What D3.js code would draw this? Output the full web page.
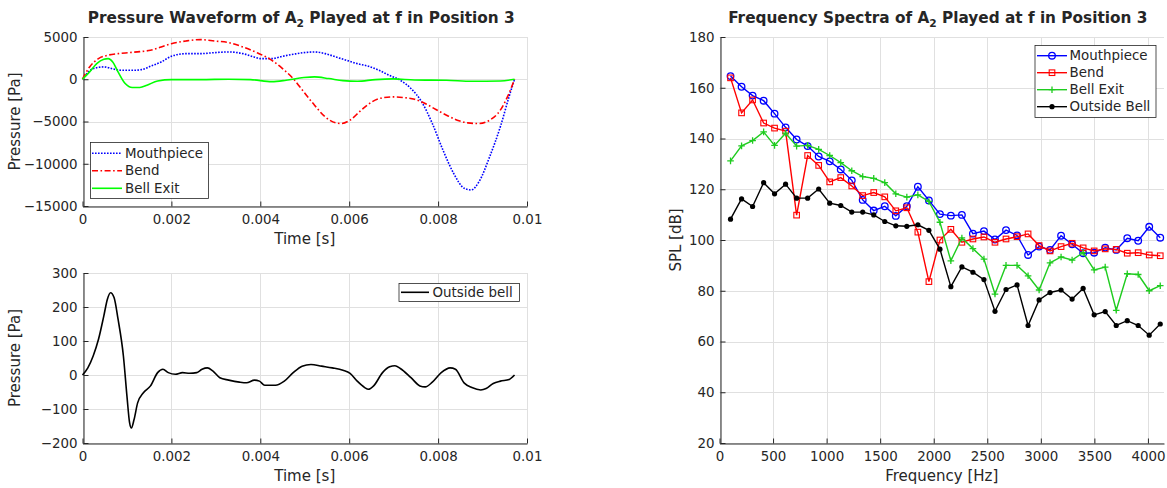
<!DOCTYPE html>
<html>
<head>
<meta charset="utf-8">
<script src="https://cdn.jsdelivr.net/npm/d3@7"></script>
<style>
  body { margin: 0; background: #fff; }
  svg text { font-family: "DejaVu Sans", sans-serif; fill: #262626; }
</style>
</head>
<body>
<svg id="chart" width="1167" height="488"></svg>
<script>
// ---- waveform data (time in ms, pressure in Pa) ----
const mouthT = [0, 0.24, 0.48, 0.72, 0.88, 1.12, 1.33, 1.53, 1.77, 2.0, 2.33, 2.65, 2.97, 3.29, 3.61, 3.86, 4.02, 4.26, 4.5, 4.74, 4.98, 5.22, 5.46, 5.7, 5.94, 6.18, 6.43, 6.67, 6.9, 7.15, 7.39, 7.63, 7.87, 8.11, 8.35, 8.59, 8.74, 8.92, 9.16, 9.4, 9.6, 9.72];
const mouthP = [0, 1260, 1460, 1180, 1060, 1060, 1140, 1540, 2050, 2720, 3030, 3030, 3150, 3230, 3030, 2640, 2440, 2440, 2720, 2950, 3150, 3230, 3030, 2640, 2240, 1850, 1540, 1060, 470, -120, -1100, -2680, -5240, -8390, -11140, -12910, -13100, -12130, -9170, -5630, -2000, 0];

const bendT = [0, 0.16, 0.36, 0.56, 0.8, 1.04, 1.29, 1.53, 1.77, 2.0, 2.33, 2.65, 2.97, 3.29, 3.61, 3.94, 4.26, 4.5, 4.74, 4.98, 5.22, 5.46, 5.7, 5.82, 6.02, 6.27, 6.51, 6.75, 6.99, 7.23, 7.47, 7.71, 7.95, 8.19, 8.43, 8.67, 8.92, 9.16, 9.4, 9.56, 9.72];
const bendP = [0, 1460, 2440, 2830, 3030, 3150, 3270, 3430, 3820, 4210, 4530, 4690, 4530, 4330, 3820, 3110, 2240, 1260, 80, -1500, -3070, -4450, -5160, -5240, -4840, -3660, -2680, -2200, -2090, -2170, -2360, -2870, -3580, -4250, -4840, -5160, -5240, -4840, -3660, -2090, 0];

const exitT = [0, 0.16, 0.32, 0.48, 0.58, 0.68, 0.8, 0.96, 1.12, 1.29, 1.45, 1.69, 2.0, 2.65, 3.29, 3.78, 4.26, 4.58, 4.98, 5.22, 5.54, 5.86, 6.18, 6.59, 6.99, 7.47, 8.19, 8.76, 9.4, 9.72];
const exitP = [0, 870, 1850, 2360, 2440, 2050, 870, -510, -980, -980, -710, -200, -40, -40, 0, -40, -280, -120, 200, 280, 80, -160, -240, -40, 40, -80, -120, -240, -200, 0];

const outT = [0, 0.12, 0.24, 0.36, 0.48, 0.56, 0.63, 0.71, 0.8, 0.92, 1.0, 1.06, 1.1, 1.16, 1.24, 1.37, 1.53, 1.69, 1.81, 1.93, 2.09, 2.25, 2.41, 2.57, 2.69, 2.81, 2.93, 3.09, 3.29, 3.53, 3.69, 3.87, 3.98, 4.1, 4.34, 4.54, 4.74, 4.94, 5.14, 5.38, 5.62, 5.86, 6.02, 6.18, 6.35, 6.43, 6.55, 6.75, 6.91, 7.03, 7.15, 7.39, 7.59, 7.71, 7.87, 8.07, 8.27, 8.39, 8.59, 8.76, 8.96, 9.08, 9.24, 9.4, 9.6, 9.72];
const outP = [0, 21, 56, 105, 174, 223, 242, 228, 164, 56, -62, -141, -156, -131, -82, -52, -32, 7, 17, 7, 2, 7, 5, 7, 17, 21, 12, -8, -15, -21, -23, -15, -18, -30, -30, -18, 7, 26, 31, 26, 21, 14, 5, -18, -37, -42, -32, 7, 24, 27, 19, -8, -32, -35, -21, 7, 21, 17, -24, -37, -44, -40, -25, -18, -13, 0];

// ---- spectra data (Hz, dB) ----
const freqs = [103, 206, 309, 412, 514, 617, 720, 823, 926, 1029, 1132, 1235, 1337, 1440, 1543, 1646, 1749, 1852, 1955, 2058, 2160, 2263, 2366, 2469, 2572, 2675, 2778, 2881, 2984, 3086, 3189, 3292, 3395, 3498, 3601, 3704, 3807, 3909, 4012, 4115];
const splMouth = [164.6, 160.4, 156.9, 154.9, 149.8, 144.4, 139.6, 137.0, 132.9, 131.0, 127.8, 123.5, 115.8, 111.6, 113.3, 109.5, 113.3, 121.0, 115.6, 110.2, 109.6, 109.9, 102.5, 103.5, 100.2, 103.9, 101.8, 94.1, 97.4, 96.1, 101.7, 98.3, 94.8, 95.0, 97.0, 96.1, 100.7, 99.7, 105.2, 100.9];
const splBend = [163.9, 150.1, 155.2, 146.1, 144.1, 142.9, 109.8, 133.3, 129.4, 122.9, 124.6, 121.3, 117.5, 118.7, 117.0, 111.5, 112.7, 103.1, 83.6, 100.0, 104.2, 99.1, 100.4, 101.2, 99.1, 100.4, 101.3, 102.4, 97.8, 95.7, 97.4, 98.7, 96.9, 95.7, 96.5, 96.3, 94.8, 95.0, 94.1, 93.8];
const splExit = [131.2, 137.1, 139.2, 142.6, 137.3, 142.1, 137.0, 137.3, 135.7, 133.3, 130.5, 127.3, 125.0, 124.3, 122.6, 118.2, 116.9, 117.8, 115.2, 107.0, 91.8, 100.8, 96.6, 92.5, 78.7, 90.0, 90.0, 85.9, 80.3, 91.0, 93.3, 92.1, 95.0, 88.2, 89.3, 72.3, 86.7, 86.4, 80.0, 82.0];
const splOut = [108.2, 116.2, 113.2, 122.6, 118.2, 122.0, 116.5, 116.5, 120.1, 114.5, 113.6, 111.0, 111.0, 109.9, 107.3, 105.6, 105.4, 106.0, 103.8, 96.4, 81.6, 89.4, 87.3, 84.4, 71.9, 80.5, 82.3, 66.3, 76.4, 79.3, 80.3, 76.7, 80.9, 70.5, 71.8, 66.3, 68.2, 66.3, 62.5, 66.9];

// ---- ticks ----
const timeTicks = [0, 0.002, 0.004, 0.006, 0.008, 0.01];
const presTicksTop = [-15000, -10000, -5000, 0, 5000];
const presTicksBottom = [-200, -100, 0, 100, 200, 300];
const freqTicks = [0, 500, 1000, 1500, 2000, 2500, 3000, 3500, 4000];
const splTicks = [20, 40, 60, 80, 100, 120, 140, 160, 180];

const svg = d3.select('#chart');
const fmt = d3.format('~g');
const axisColor = '#262626', gridColor = '#e0e0e0';

function panel(box, xDomain, yDomain, xTicks, yTicks, xLabel, yLabel) {
	const x = d3.scaleLinear().domain(xDomain).range([box.x0, box.x1]);
	const y = d3.scaleLinear().domain(yDomain).range([box.y1, box.y0]);
	const g = svg.append('g');

	const grid = g.append('g');
	grid.selectAll('line.gx').data(xTicks).enter().append('line')
		.attr('x1', d => Math.round(x(d)) + 0.5).attr('x2', d => Math.round(x(d)) + 0.5)
		.attr('y1', box.y0).attr('y2', box.y1)
		.attr('stroke', gridColor);
	grid.selectAll('line.gy').data(yTicks).enter().append('line')
		.attr('y1', d => Math.round(y(d)) + 0.5).attr('y2', d => Math.round(y(d)) + 0.5)
		.attr('x1', box.x0).attr('x2', box.x1)
		.attr('stroke', gridColor);

	const xa = g.append('g').attr('transform', 'translate(0,' + (Math.round(box.y1) + 0.5) + ')')
		.call(d3.axisBottom(x).tickValues(xTicks).tickFormat(fmt).tickSizeInner(-5).tickSizeOuter(0).tickPadding(8));
	const ya = g.append('g').attr('transform', 'translate(' + (Math.round(box.x0) + 0.5) + ',0)')
		.call(d3.axisLeft(y).tickValues(yTicks).tickFormat(fmt).tickSizeInner(-5).tickSizeOuter(0).tickPadding(6));
	[xa, ya].forEach(a => {
		a.select('.domain').attr('stroke', axisColor);
		a.selectAll('.tick line').attr('stroke', axisColor);
		a.selectAll('.tick text').style('font-size', '13.4px').attr('fill', axisColor);
	});

	g.append('text').attr('x', (box.x0 + box.x1) / 2).attr('y', box.y1 + 38)
		.attr('text-anchor', 'middle').style('font-size', '15px').text(xLabel);
	g.append('text').attr('transform', 'translate(' + box.lx + ',' + (box.y0 + box.y1) / 2 + ') rotate(-90)')
		.attr('text-anchor', 'middle').style('font-size', '15px').text(yLabel);

	return { g, x, y };
}

function title(cx, text1, text2) {
	const t = svg.append('text').attr('x', cx).attr('y', 22.7).attr('text-anchor', 'middle')
		.style('font-size', '15.3px').style('font-weight', 'bold').attr('fill', '#000');
	t.append('tspan').text(text1);
	t.append('tspan').attr('dy', 4.5).style('font-size', '10.7px').text('2');
	t.append('tspan').attr('dy', -4.5).text(text2);
}

function legendBox(g, bx, by, w, h) {
	g.append('rect').attr('x', bx + 0.5).attr('y', by + 0.5).attr('width', w).attr('height', h)
		.attr('fill', '#fff').attr('stroke', axisColor).attr('stroke-width', 0.8);
}

// ---------- top left: waveforms ----------
const boxA = { x0: 82.5, x1: 527, y0: 37, y1: 206, lx: 20 };
const pA = panel(boxA, [0, 0.01], [-15000, 5000], timeTicks, presTicksTop, 'Time [s]', 'Pressure [Pa]');
title((boxA.x0 + boxA.x1) / 2 - 3.5, 'Pressure Waveform of A', ' Played at f in Position 3');

const wave = [
	{ name: 'Mouthpiece', t: mouthT, p: mouthP, color: '#0000ff', dash: '1.6,1.4' },
	{ name: 'Bend', t: bendT, p: bendP, color: '#ff0000', dash: '6,2.5,1.6,2.5' },
	{ name: 'Bell Exit', t: exitT, p: exitP, color: '#00ff00', dash: null }
];
const lineA = d3.line().curve(d3.curveMonotoneX).x(d => pA.x(d[0] / 1000)).y(d => pA.y(d[1]));
wave.forEach(s => {
	pA.g.append('path').datum(d3.zip(s.t, s.p)).attr('d', lineA)
		.attr('fill', 'none').attr('stroke', s.color).attr('stroke-width', 1.6)
		.attr('stroke-dasharray', s.dash);
});

const legA = pA.g.append('g');
legendBox(legA, 90, 142, 118, 56);
wave.forEach((s, i) => {
	const yy = 153.3 + i * 17.5;
	legA.append('line').attr('x1', 92).attr('x2', 122).attr('y1', yy).attr('y2', yy)
		.attr('stroke', s.color).attr('stroke-width', 1.6).attr('stroke-dasharray', s.dash);
	legA.append('text').attr('x', 125).attr('y', yy).attr('dy', '0.35em')
		.style('font-size', '13.4px').attr('fill', '#000').text(s.name);
});

// ---------- bottom left: outside bell ----------
const boxB = { x0: 82.5, x1: 527, y0: 273, y1: 443, lx: 20 };
const pB = panel(boxB, [0, 0.01], [-200, 300], timeTicks, presTicksBottom, 'Time [s]', 'Pressure [Pa]');
const lineB = d3.line().curve(d3.curveMonotoneX).x(d => pB.x(d[0] / 1000)).y(d => pB.y(d[1]));
pB.g.append('path').datum(d3.zip(outT, outP)).attr('d', lineB)
	.attr('fill', 'none').attr('stroke', '#000').attr('stroke-width', 1.6);

const legB = pB.g.append('g');
legendBox(legB, 398.5, 283, 120.5, 18);
legB.append('line').attr('x1', 401).attr('x2', 429).attr('y1', 292.3).attr('y2', 292.3)
	.attr('stroke', '#000').attr('stroke-width', 1.6);
legB.append('text').attr('x', 432.5).attr('y', 292.3).attr('dy', '0.35em')
	.style('font-size', '13.4px').attr('fill', '#000').text('Outside bell');

// ---------- right: spectra ----------
const boxC = { x0: 719.5, x1: 1164, y0: 37, y1: 443, lx: 681 };
const pC = panel(boxC, [0, 4150], [20, 180], freqTicks, splTicks, 'Frequency [Hz]', 'SPL [dB]');
title((boxC.x0 + boxC.x1) / 2 - 4, 'Frequency Spectra of A', ' Played at f in Position 3');

const spectra = [
	{ name: 'Mouthpiece', v: splMouth, color: '#0000ff', marker: 'circle' },
	{ name: 'Bend', v: splBend, color: '#ff0000', marker: 'square' },
	{ name: 'Bell Exit', v: splExit, color: '#1fcc1f', marker: 'plus' },
	{ name: 'Outside Bell', v: splOut, color: '#000000', marker: 'dot' }
];

function marker(g, type, cx, cy, color) {
	if (type === 'circle') {
		g.append('circle').attr('cx', cx).attr('cy', cy).attr('r', 3.3)
			.attr('fill', 'none').attr('stroke', color).attr('stroke-width', 1.3);
	} else if (type === 'square') {
		g.append('rect').attr('x', cx - 2.8).attr('y', cy - 2.8).attr('width', 5.6).attr('height', 5.6)
			.attr('fill', 'none').attr('stroke', color).attr('stroke-width', 1.1);
	} else if (type === 'plus') {
		g.append('path').attr('d', 'M' + (cx - 3.3) + ',' + cy + 'H' + (cx + 3.3) + 'M' + cx + ',' + (cy - 3.3) + 'V' + (cy + 3.3))
			.attr('stroke', color).attr('stroke-width', 1.3);
	} else {
		g.append('circle').attr('cx', cx).attr('cy', cy).attr('r', 2.6).attr('fill', color);
	}
}

const lineC = d3.line().x(d => pC.x(d[0])).y(d => pC.y(d[1]));
spectra.forEach(s => {
	const pts = d3.zip(freqs, s.v);
	const sg = pC.g.append('g');
	sg.append('path').datum(pts).attr('d', lineC)
		.attr('fill', 'none').attr('stroke', s.color).attr('stroke-width', 1.4);
	pts.forEach(d => marker(sg, s.marker, pC.x(d[0]), pC.y(d[1]), s.color));
});

const legC = pC.g.append('g');
legendBox(legC, 1034.5, 45, 121, 72);
spectra.forEach((s, i) => {
	const yy = 55.7 + i * 17;
	legC.append('line').attr('x1', 1037).attr('x2', 1067).attr('y1', yy).attr('y2', yy)
		.attr('stroke', s.color).attr('stroke-width', 1.4);
	marker(legC, s.marker, 1052, yy, s.color);
	legC.append('text').attr('x', 1069.5).attr('y', yy).attr('dy', '0.35em')
		.style('font-size', '13.4px').attr('fill', '#000').text(s.name);
});
</script>
</body>
</html>
